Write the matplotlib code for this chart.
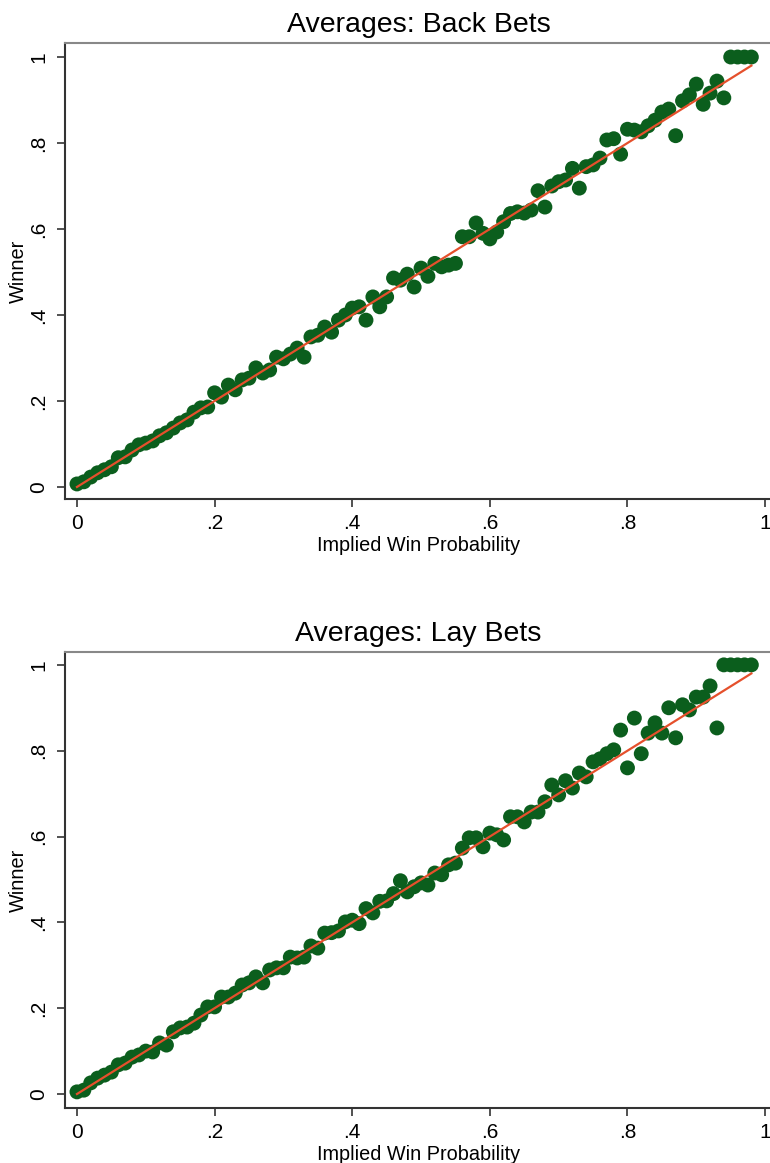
import matplotlib.pyplot as plt
import numpy as np

plt.rcParams['font.family'] = ['Liberation Sans', 'DejaVu Sans']

# implied win probability bins (same for both panels)
prob = [round(0.01 * i, 2) for i in range(99)]

# average winner rate per bin, back bets
back_winner = [
    0.007, 0.012, 0.023, 0.033, 0.040, 0.047, 0.068, 0.070, 0.086, 0.098,
    0.102, 0.107, 0.119, 0.126, 0.137, 0.149, 0.156, 0.174, 0.184, 0.186,
    0.219, 0.209, 0.237, 0.226, 0.249, 0.253, 0.277, 0.265, 0.272, 0.302,
    0.298, 0.309, 0.323, 0.302, 0.349, 0.353, 0.372, 0.360, 0.388, 0.400,
    0.416, 0.419, 0.388, 0.442, 0.419, 0.442, 0.486, 0.481, 0.495, 0.465,
    0.509, 0.490, 0.520, 0.512, 0.516, 0.520, 0.582, 0.582, 0.614, 0.590,
    0.577, 0.593, 0.617, 0.636, 0.640, 0.637, 0.644, 0.689, 0.651, 0.700,
    0.710, 0.714, 0.741, 0.695, 0.745, 0.749, 0.765, 0.807, 0.810, 0.774,
    0.832, 0.830, 0.826, 0.840, 0.853, 0.872, 0.879, 0.817, 0.898, 0.912,
    0.937, 0.890, 0.916, 0.944, 0.905, 1.000, 1.000, 1.000, 1.000,
]

# average winner rate per bin, lay bets
lay_winner = [
    0.005, 0.009, 0.026, 0.037, 0.044, 0.051, 0.068, 0.072, 0.086, 0.091,
    0.100, 0.098, 0.119, 0.114, 0.145, 0.154, 0.156, 0.165, 0.184, 0.203,
    0.203, 0.226, 0.226, 0.235, 0.254, 0.259, 0.273, 0.259, 0.289, 0.294,
    0.294, 0.319, 0.317, 0.319, 0.345, 0.340, 0.375, 0.376, 0.380, 0.401,
    0.405, 0.397, 0.432, 0.422, 0.449, 0.450, 0.467, 0.497, 0.471, 0.483,
    0.492, 0.487, 0.515, 0.511, 0.534, 0.538, 0.573, 0.597, 0.597, 0.576,
    0.608, 0.604, 0.592, 0.646, 0.646, 0.634, 0.657, 0.657, 0.681, 0.720,
    0.697, 0.730, 0.713, 0.748, 0.739, 0.774, 0.781, 0.793, 0.802, 0.848,
    0.760, 0.876, 0.793, 0.841, 0.865, 0.841, 0.900, 0.830, 0.907, 0.895,
    0.925, 0.925, 0.951, 0.853, 1.000, 1.000, 1.000, 1.000, 1.000,
]

titles = ["Averages: Back Bets", "Averages: Lay Bets"]
yticks = [0, 0.2, 0.4, 0.6, 0.8, 1]
ytick_labels = ["0", ".2", ".4", ".6", ".8", "1"]
xticks = [0, 0.2, 0.4, 0.6, 0.8, 1]
xtick_labels = ["0", ".2", ".4", ".6", ".8", "1"]

W, H = 770, 1163
fig = plt.figure(figsize=(W / 100, H / 100), dpi=100)

# pixel boxes of the two plot regions: left, top, right, bottom
boxes = [(65, 43, 772, 499), (65, 652, 772, 1108)]
ylims = [(-0.028, 1.0326), (-0.0326, 1.030)]

green = "#0b5e1d"
red = "#e5502c"

for i, (winner, title) in enumerate(zip([back_winner, lay_winner], titles)):
    l, t, r, b = boxes[i]
    ax = fig.add_axes([l / W, 1 - b / H, (r - l) / W, (b - t) / H])
    x = np.array(prob)
    y = np.array(winner)
    ax.scatter(x, y, s=115, color=green, edgecolors='none', zorder=2)
    # 45 degree reference line (perfect calibration)
    ax.plot(x, x, color=red, lw=1.6, zorder=3)

    ax.set_xlim(-0.0174, 1.010)
    ax.set_ylim(*ylims[i])
    ax.set_xticks(xticks)
    ax.set_xticklabels(xtick_labels, fontsize=15)
    ax.set_yticks(yticks)
    ax.set_yticklabels(ytick_labels, fontsize=15, rotation=90, va='center')
    ax.tick_params(length=6, width=1.2, color="#333333", pad=5)
    ax.tick_params(axis='y', pad=6)

    ax.spines['right'].set_visible(False)
    ax.spines['top'].set_color("#888888")
    ax.spines['top'].set_linewidth(1.5)
    for s in ('left', 'bottom'):
        ax.spines[s].set_color("#333333")
        ax.spines[s].set_linewidth(1.5)

    ax.set_title(title, fontsize=20.5, pad=8)
    ax.set_xlabel("Implied Win Probability", fontsize=14.3, labelpad=2)
    ax.set_ylabel("Winner", fontsize=14.3, labelpad=1)

fig.savefig("out.png", dpi=100)
